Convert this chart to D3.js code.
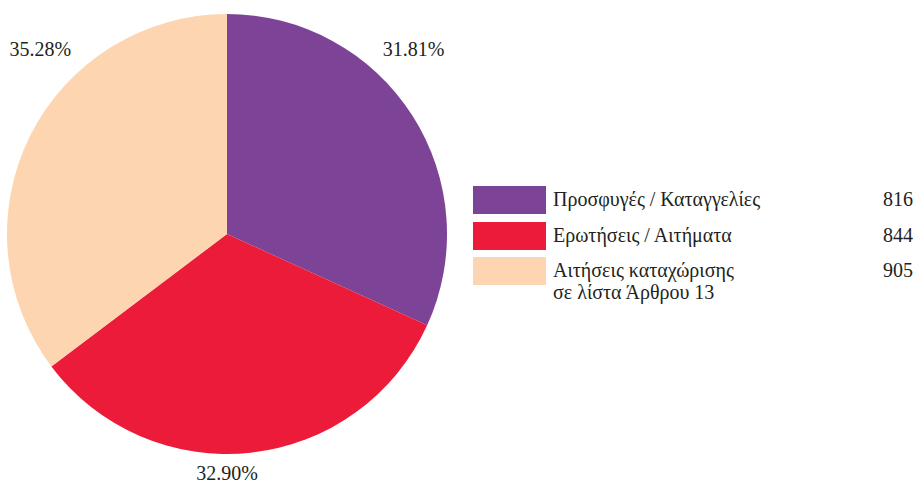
<!DOCTYPE html>
<html>
<head>
<meta charset="utf-8">
<script src="https://cdn.jsdelivr.net/npm/d3@7"></script>
<style>
  body { margin: 0; background: #fff; }
  svg { display: block; }
</style>
</head>
<body>
<div id="chart"></div>
<script>
// chart data
let categories = ['Προσφυγές / Καταγγελίες', 'Ερωτήσεις / Αιτήματα', 'Αιτήσεις καταχώρισης\nσε λίστα Άρθρου 13'];
let values = [816, 844, 905];
let colors = ['#7d4397', '#ed1b3a', '#fdd6b1'];

let width = 917, height = 486;
let cx = 227, cy = 234, radius = 220;
let font = "'Liberation Serif', 'Times New Roman', serif";
let textColor = '#231f20';

let svg = d3.select('#chart')
    .append('svg')
    .attr('width', width)
    .attr('height', height);

let total = d3.sum(values);
let slices = d3.pie().sort(null)(values);
let arc = d3.arc().innerRadius(0).outerRadius(radius);

let pie = svg.append('g')
    .attr('transform', `translate(${cx}, ${cy})`);

pie.selectAll('path')
    .data(slices)
    .join('path')
    .attr('fill', (d, i) => colors[i])
    .attr('d', arc);

// percentage labels, snapped to the nearest 45 degrees around the pie
let labelPos = d => {
    let mid = (d.startAngle + d.endAngle) / 2;
    let snap = Math.round(mid / (Math.PI / 4)) * (Math.PI / 4);
    let diagonal = Math.abs(Math.sin(snap)) > 0.1 && Math.abs(Math.cos(snap)) > 0.1;
    let r = radius * (diagonal ? 1.2 : 1.08);
    return [Math.sin(snap) * r, -Math.cos(snap) * r];
};

pie.selectAll('text')
    .data(slices)
    .join('text')
    .style('font-family', font)
    .attr('font-size', 20)
    .attr('fill', textColor)
    .attr('text-anchor', 'middle')
    .attr('dy', '0.42em')
    .attr('x', d => labelPos(d)[0])
    .attr('y', d => labelPos(d)[1])
    .text(d => (d.value / total * 100).toFixed(2) + '%');

// legend
let legendY = d3.scaleOrdinal()
    .domain(categories)
    .range([186, 222, 257]);

let legend = svg.append('g')
    .selectAll('g')
    .data(categories)
    .join('g')
    .attr('transform', d => `translate(473, ${legendY(d)})`);

legend.append('rect')
    .attr('width', 73)
    .attr('height', 28)
    .attr('fill', (d, i) => colors[i]);

legend.append('text')
    .style('font-family', font)
    .attr('font-size', 20)
    .attr('fill', textColor)
    .attr('x', 80)
    .attr('y', 20)
    .selectAll('tspan')
    .data(d => d.split('\n'))
    .join('tspan')
    .attr('x', 80)
    .attr('dy', (d, i) => i ? 21.5 : 0)
    .text(d => d);

legend.append('text')
    .style('font-family', font)
    .attr('font-size', 20)
    .attr('fill', textColor)
    .attr('text-anchor', 'end')
    .attr('x', 440)
    .attr('y', 20)
    .text((d, i) => values[i]);
</script>
</body>
</html>
